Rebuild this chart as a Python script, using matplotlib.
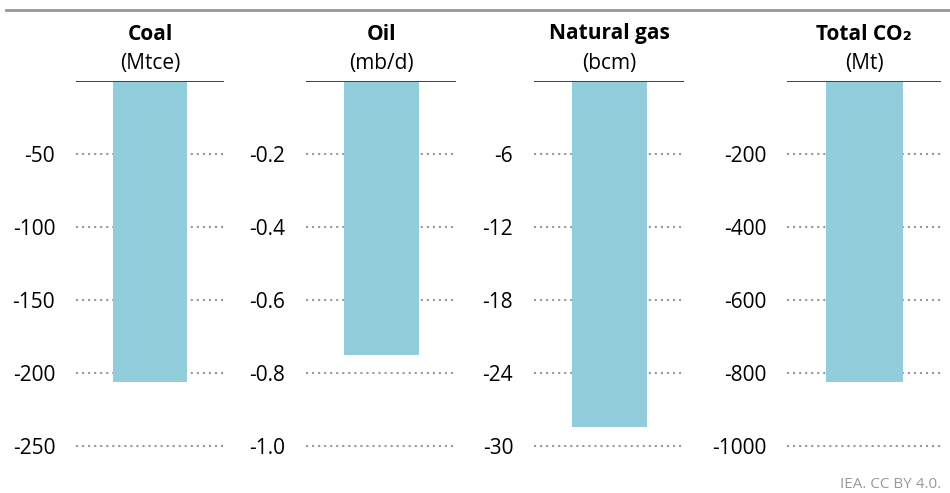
import matplotlib
matplotlib.use("Agg")
import matplotlib.pyplot as plt
from matplotlib.lines import Line2D

plt.rcParams['font.family'] = ['Open Sans', 'DejaVu Sans']

titles = ["Coal", "Oil", "Natural gas", "Total CO\u2082"]
units = ["(Mtce)", "(mb/d)", "(bcm)", "(Mt)"]
values = [-206, -0.75, -28.4, -824]
steps = [50, 0.2, 6, 200]
tick_labels = [
    ["-50", "-100", "-150", "-200", "-250"],
    ["-0.2", "-0.4", "-0.6", "-0.8", "-1.0"],
    ["-6", "-12", "-18", "-24", "-30"],
    ["-200", "-400", "-600", "-800", "-1000"],
]

W, H = 950, 493
fig = plt.figure(figsize=(W / 100, H / 100), dpi=100)

lefts = [76, 306, 534, 787]
rights = [224, 456, 684, 941]
y_top, y_bot, y_last = 81, 460, 446
bar_color = "#92CDDC"
fs = 15

for i in range(4):
    L, R = lefts[i], rights[i]
    ax = fig.add_axes([L / W, 1 - y_bot / H, (R - L) / W, (y_bot - y_top) / H])
    step = steps[i]
    ymin = -5 * step * (y_bot - y_top) / (y_last - y_top)
    ax.set_ylim(ymin, 0)
    ax.set_xlim(-1, 1)
    ticks = [-step * k for k in range(1, 6)]
    ax.set_yticks(ticks)
    ax.set_yticklabels(tick_labels[i], fontsize=fs)
    ax.tick_params(axis='y', length=0, pad=15)
    ax.set_xticks([])
    for s in ax.spines.values():
        s.set_visible(False)
    for t in ticks:
        ax.axhline(t, color="#999999", lw=1.5, linestyle=(0, (1, 1.9)), zorder=1)
    ax.bar([0], [values[i]], width=1.0, color=bar_color, zorder=2)
    ax.axhline(0, color="#404040", lw=1.4, zorder=3)
    cx = (L + R) / 2 / W
    fig.text(cx, 1 - 34 / H, titles[i], ha='center', va='center', fontsize=fs, fontweight='bold')
    fig.text(cx, 1 - 64 / H, units[i], ha='center', va='center', fontsize=fs)

fig.add_artist(Line2D([6 / W, 1], [1 - 10 / H, 1 - 10 / H], color="#999999", lw=2))
fig.text(941 / W, 1 - 484 / H, "IEA. CC BY 4.0.", ha='right', va='center', fontsize=11, color="#999999")

fig.savefig("out.png", dpi=100)
